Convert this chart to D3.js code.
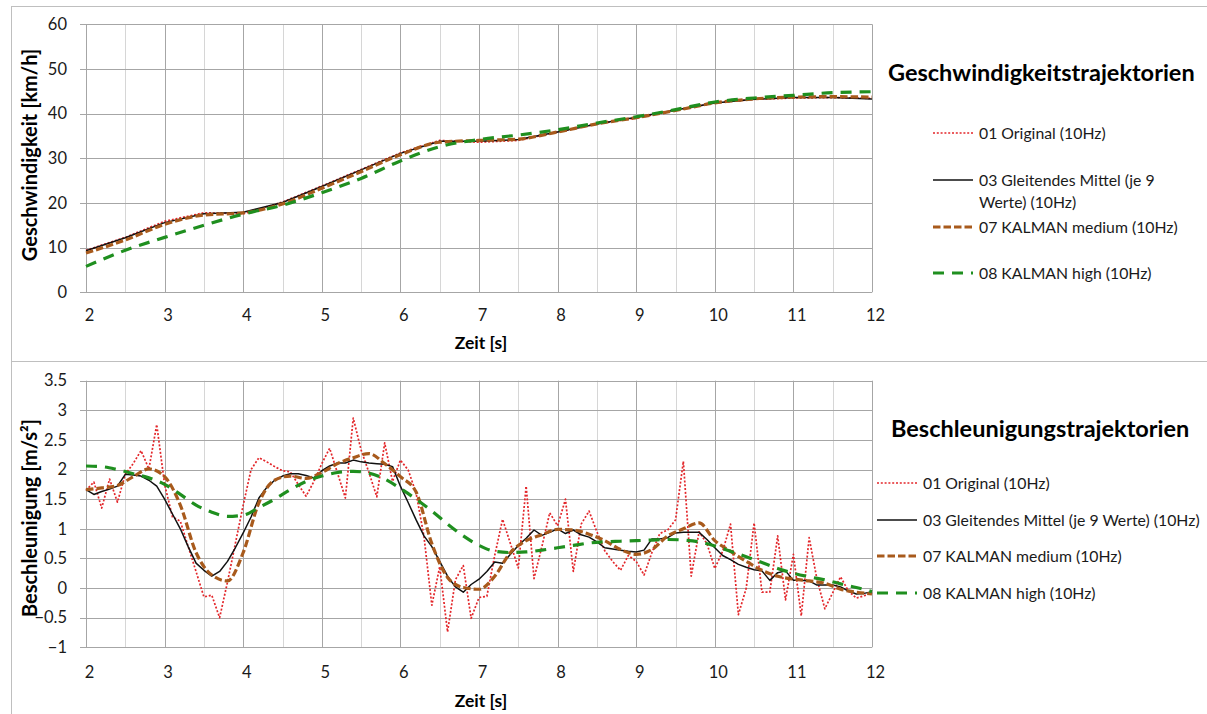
<!DOCTYPE html>
<html>
<head>
<meta charset="utf-8">
<script src="https://cdn.jsdelivr.net/npm/d3@7"></script>
<style>
  body { margin: 0; background: #fff; }
  svg { display: block; font-family: Lato, "Open Sans", sans-serif; }
</style>
</head>
<body>
<svg id="chart" width="1207" height="714"></svg>
<script>
// ---------- Zeitachsen ----------
const velTime = [2, 2.5, 3, 3.5, 4, 4.5, 5, 5.5, 6, 6.5, 7, 7.5, 8, 8.5, 9, 9.5, 10, 10.5, 11, 11.5, 12];

const accTimeFine = [
  2.0, 2.1, 2.2, 2.3, 2.4, 2.5, 2.6, 2.7, 2.8, 2.9,
  3.0, 3.1, 3.2, 3.3, 3.4, 3.5, 3.6, 3.7, 3.8, 3.9,
  4.0, 4.1, 4.2, 4.3, 4.4, 4.5, 4.6, 4.7, 4.8, 4.9,
  5.0, 5.1, 5.2, 5.3, 5.4, 5.5, 5.6, 5.7, 5.8, 5.9,
  6.0, 6.1, 6.2, 6.3, 6.4, 6.5, 6.6, 6.7, 6.8, 6.9,
  7.0, 7.1, 7.2, 7.3, 7.4, 7.5, 7.6, 7.7, 7.8, 7.9,
  8.0, 8.1, 8.2, 8.3, 8.4, 8.5, 8.6, 8.7, 8.8, 8.9,
  9.0, 9.1, 9.2, 9.3, 9.4, 9.5, 9.6, 9.7, 9.8, 9.9,
  10.0, 10.1, 10.2, 10.3, 10.4, 10.5, 10.6, 10.7, 10.8, 10.9,
  11.0, 11.1, 11.2, 11.3, 11.4, 11.5, 11.6, 11.7, 11.8, 11.9,
  12.0
];

const accTimeCoarse = [
  2.0, 2.2, 2.4, 2.6, 2.8, 3.0, 3.2, 3.4, 3.6, 3.8,
  4.0, 4.2, 4.4, 4.6, 4.8, 5.0, 5.2, 5.4, 5.6, 5.8,
  6.0, 6.2, 6.4, 6.6, 6.8, 7.0, 7.2, 7.4, 7.6, 7.8,
  8.0, 8.2, 8.4, 8.6, 8.8, 9.0, 9.2, 9.4, 9.6, 9.8,
  10.0, 10.2, 10.4, 10.6, 10.8, 11.0, 11.2, 11.4, 11.6, 11.8,
  12.0
];

// ---------- Geschwindigkeit [km/h] ----------
const velOriginal      = [9.4, 12.3, 15.9, 17.8, 17.6, 20.2, 23.8, 27.5, 31.2, 34.0, 33.6, 34.0, 35.9, 37.7, 39.0, 40.7, 42.4, 43.2, 43.5, 43.6, 43.4];
const velMovingAvg     = [9.3, 12.2, 15.6, 17.6, 17.9, 20.1, 23.7, 27.4, 31.1, 33.8, 33.8, 34.2, 35.9, 37.7, 39.2, 40.8, 42.4, 43.2, 43.6, 43.6, 43.3];
const velKalmanMedium  = [8.8, 11.7, 15.2, 17.3, 17.8, 19.8, 23.3, 27.0, 30.8, 33.6, 34.0, 34.3, 35.9, 37.7, 39.1, 40.7, 42.4, 43.3, 43.7, 43.8, 43.7];
const velKalmanHigh    = [5.8, 9.4, 12.3, 15.0, 17.5, 19.5, 22.3, 25.5, 29.4, 32.6, 34.2, 35.2, 36.4, 37.9, 39.3, 40.9, 42.6, 43.5, 44.1, 44.7, 44.9];

// ---------- Beschleunigung [m/s²] ----------
const accOriginal = [
  1.65, 1.79, 1.35, 1.84, 1.45, 1.92, 2.10, 2.32, 2.01, 2.76,
  1.75, 1.20, 1.13, 0.70, 0.28, -0.15, -0.12, -0.50, 0.10, 0.75,
  1.40, 2.00, 2.20, 2.13, 2.05, 1.98, 1.96, 1.75, 1.55, 1.80,
  2.10, 2.36, 1.94, 1.52, 2.87, 2.33, 1.95, 1.54, 2.45, 1.80,
  2.16, 1.99, 1.60, 0.87, -0.29, 0.36, -0.74, 0.14, 0.38, -0.51,
  -0.16, -0.14, 0.55, 1.16, 0.75, 0.34, 1.72, 0.16, 0.70, 1.27,
  1.05, 1.50, 0.28, 1.08, 1.30, 0.95, 0.63, 0.45, 0.30, 0.55,
  0.45, 0.22, 0.60, 0.92, 0.98, 1.15, 2.14, 0.20, 0.95, 0.75,
  0.33, 0.62, 1.08, -0.45, 0.00, 1.10, -0.07, -0.07, 0.88, -0.20,
  0.57, -0.47, 0.85, 0.15, -0.35, -0.08, 0.19, -0.05, -0.17, -0.13,
  -0.08
];

const accMovingAvg = [
  1.66, 1.58, 1.63, 1.67, 1.72, 1.92, 1.91, 1.89, 1.82, 1.72,
  1.50, 1.25, 1.00, 0.70, 0.42, 0.30, 0.20, 0.28, 0.45, 0.68,
  0.93, 1.20, 1.52, 1.70, 1.82, 1.89, 1.93, 1.93, 1.90, 1.86,
  1.98, 2.06, 2.11, 2.11, 2.16, 2.13, 2.11, 2.10, 2.09, 2.05,
  1.72, 1.44, 1.15, 0.88, 0.70, 0.45, 0.20, 0.02, -0.07, 0.06,
  0.15, 0.28, 0.44, 0.42, 0.57, 0.72, 0.84, 0.98, 0.89, 0.94,
  1.00, 0.92, 0.98, 0.90, 0.86, 0.78, 0.68, 0.66, 0.64, 0.62,
  0.61, 0.64, 0.83, 0.83, 0.85, 0.93, 0.94, 0.94, 0.94, 0.82,
  0.68, 0.55, 0.48, 0.40, 0.35, 0.31, 0.29, 0.13, 0.26, 0.29,
  0.13, 0.13, 0.12, 0.05, 0.05, 0.05, 0.02, -0.05, -0.10, -0.09,
  -0.06
];

const accKalmanMedium = [
  1.66, 1.69, 1.73, 1.88, 2.01, 1.88, 1.40, 0.60, 0.22, 0.12,
  0.60, 1.44, 1.82, 1.89, 1.85, 1.95, 2.10, 2.20, 2.27, 2.10,
  1.88, 1.62, 0.75, 0.18, 0.01, -0.02, 0.20, 0.60, 0.80, 0.90,
  0.99, 0.98, 0.91, 0.80, 0.65, 0.57, 0.65, 0.88, 1.00, 1.10,
  0.80, 0.62, 0.45, 0.30, 0.20, 0.15, 0.12, 0.08, -0.02, -0.07,
  -0.10
];

const accKalmanHigh = [
  2.06, 2.05, 2.00, 1.93, 1.86, 1.75, 1.58, 1.40, 1.28, 1.21,
  1.23, 1.36, 1.50, 1.66, 1.80, 1.89, 1.95, 1.97, 1.94, 1.84,
  1.68, 1.50, 1.30, 1.08, 0.88, 0.72, 0.62, 0.60, 0.61, 0.64,
  0.68, 0.72, 0.76, 0.78, 0.79, 0.80, 0.81, 0.82, 0.81, 0.78,
  0.71, 0.62, 0.53, 0.43, 0.33, 0.25, 0.19, 0.14, 0.07, 0.01,
  -0.06
];

// ---------- Achsen-Beschriftungen ----------
const xTicks = [2, 3, 4, 5, 6, 7, 8, 9, 10, 11, 12];
const velTicks = [0, 10, 20, 30, 40, 50, 60];
const accTicks = [-1, -0.5, 0, 0.5, 1, 1.5, 2, 2.5, 3, 3.5];

const labelOriginal = "01 Original (10Hz)";
const labelMovingAvg = "03 Gleitendes Mittel (je 9 Werte) (10Hz)";
const labelKalmanMedium = "07 KALMAN medium (10Hz)";
const labelKalmanHigh = "08 KALMAN high (10Hz)";

// ---------- Linienstile ----------
const styles = {
  original: { color: "#e3262a", width: 1.7, dash: "2,1.8", curve: d3.curveLinear },
  moving:   { color: "#111111", width: 1.5, dash: null,    curve: d3.curveLinear },
  medium:   { color: "#a85a1c", width: 3.2, dash: "7.5,3", curve: d3.curveMonotoneX },
  high:     { color: "#1f8f1f", width: 3.2, dash: "11,8",  curve: d3.curveMonotoneX }
};

const svg = d3.select("#chart");
const gridMajor = "#a6a6a6";
const gridMinor = "#d6d6d6";
const textColor = "#1a1a1a";

// Rahmen der beiden Diagrammflächen
svg.append("line").attr("x1", 11).attr("x2", 1207).attr("y1", 6.5).attr("y2", 6.5)
  .attr("stroke", "#bfbfbf");
svg.append("line").attr("x1", 11.5).attr("x2", 11.5).attr("y1", 6).attr("y2", 714)
  .attr("stroke", "#bfbfbf");
svg.append("line").attr("x1", 11).attr("x2", 1207).attr("y1", 361.5).attr("y2", 361.5)
  .attr("stroke", "#bfbfbf");

function drawPanel(cfg) {
  const g = svg.append("g");
  const x = d3.scaleLinear().domain([2, 12]).range([86, 872]);
  const y = d3.scaleLinear().domain(cfg.yDomain).range([cfg.yBottom, cfg.yTop]);

  // vertikale Gitterlinien alle 0,5 s
  const halfSteps = d3.range(4, 25).map(k => k / 2);
  g.selectAll(".vgrid").data(halfSteps).join("line")
    .attr("x1", d => Math.round(x(d)) + 0.5).attr("x2", d => Math.round(x(d)) + 0.5)
    .attr("y1", cfg.yTop).attr("y2", cfg.yBottom)
    .attr("stroke", d => Number.isInteger(d) ? gridMajor : gridMinor)
    .attr("stroke-width", 1);

  // horizontale Gitterlinien
  g.selectAll(".hgrid").data(cfg.ticks).join("line")
    .attr("x1", 80).attr("x2", 872)
    .attr("y1", d => Math.round(y(d)) + 0.5).attr("y2", d => Math.round(y(d)) + 0.5)
    .attr("stroke", gridMajor).attr("stroke-width", 1);

  // y-Achse
  const yAxis = d3.axisLeft(y).tickValues(cfg.ticks).tickSize(0).tickPadding(0)
    .tickFormat(cfg.fmt);
  const ya = g.append("g").attr("transform", "translate(67,0)").call(yAxis);
  ya.select(".domain").remove();
  ya.selectAll("text").attr("font-family", "Lato, sans-serif").attr("font-size", 16.5)
    .attr("fill", textColor);

  // x-Achse
  const xAxis = d3.axisBottom(x).tickValues(xTicks).tickSize(0).tickPadding(0)
    .tickFormat(d3.format("d"));
  const xa = g.append("g").attr("transform", `translate(3,${cfg.xLabelY})`).call(xAxis);
  xa.select(".domain").remove();
  xa.selectAll("text").attr("font-family", "Lato, sans-serif").attr("font-size", 16.5)
    .attr("fill", textColor);

  // Achsentitel
  g.append("text").attr("x", 481).attr("y", cfg.xTitleY).attr("text-anchor", "middle")
    .attr("font-weight", "bold").attr("font-size", 17.5).attr("fill", "#000")
    .text("Zeit [s]");
  g.append("text")
    .attr("transform", `translate(37,${cfg.yTitleCenter}) rotate(-90)`)
    .attr("text-anchor", "middle").attr("font-weight", "bold").attr("font-size", 20)
    .attr("fill", "#000").text(cfg.yTitle);

  // Datenreihen
  cfg.series.forEach(s => {
    const st = styles[s.style];
    const pts = s.time.map((t, i) => [t, s.values[i]]);
    const line = d3.line().x(d => x(d[0])).y(d => y(d[1])).curve(st.curve);
    g.append("path").attr("d", line(pts)).attr("fill", "none")
      .attr("stroke", st.color).attr("stroke-width", st.width)
      .attr("stroke-dasharray", st.dash).attr("stroke-linejoin", "round");
  });

  // Titel und Legende
  g.append("text").attr("x", cfg.titleX).attr("y", cfg.titleY).attr("dy", "0.35em")
    .attr("font-weight", "bold").attr("font-size", 23.5).attr("fill", "#000")
    .text(cfg.title);

  cfg.legend.forEach(item => {
    const st = styles[item.style];
    g.append("line").attr("x1", cfg.legX1).attr("x2", cfg.legX2)
      .attr("y1", item.y).attr("y2", item.y)
      .attr("stroke", st.color).attr("stroke-width", st.width)
      .attr("stroke-dasharray", st.dash);
    const t = g.append("text").attr("x", cfg.legTextX).attr("y", item.y)
      .attr("font-size", 15.8).attr("fill", textColor);
    item.lines.forEach((ln, k) => {
      t.append("tspan").attr("x", cfg.legTextX).attr("dy", k === 0 ? "0.35em" : "1.4em").text(ln);
    });
  });
}

drawPanel({
  yDomain: [0, 60], yTop: 24.3, yBottom: 292.3, ticks: velTicks, fmt: d3.format("d"),
  xLabelY: 309, xTitleY: 349, yTitle: "Geschwindigkeit [km/h]", yTitleCenter: 155,
  title: "Geschwindigkeitstrajektorien", titleX: 888, titleY: 73,
  legX1: 933, legX2: 973, legTextX: 979,
  legend: [
    { style: "original", y: 133, lines: [labelOriginal] },
    { style: "moving", y: 180, lines: ["03 Gleitendes Mittel (je 9", "Werte) (10Hz)"] },
    { style: "medium", y: 227, lines: [labelKalmanMedium] },
    { style: "high", y: 273, lines: [labelKalmanHigh] }
  ],
  series: [
    { style: "original", time: velTime, values: velOriginal },
    { style: "moving", time: velTime, values: velMovingAvg },
    { style: "medium", time: velTime, values: velKalmanMedium },
    { style: "high", time: velTime, values: velKalmanHigh }
  ]
});

drawPanel({
  yDomain: [-1, 3.5], yTop: 380.7, yBottom: 647.3, ticks: accTicks, fmt: d3.format(""),
  xLabelY: 666, xTitleY: 707, yTitle: "Beschleunigung [m/s²]", yTitleCenter: 518,
  title: "Beschleunigungstrajektorien", titleX: 891, titleY: 429,
  legX1: 877, legX2: 917, legTextX: 923,
  legend: [
    { style: "original", y: 483, lines: [labelOriginal] },
    { style: "moving", y: 520, lines: [labelMovingAvg] },
    { style: "medium", y: 556, lines: [labelKalmanMedium] },
    { style: "high", y: 593, lines: [labelKalmanHigh] }
  ],
  series: [
    { style: "original", time: accTimeFine, values: accOriginal },
    { style: "moving", time: accTimeFine, values: accMovingAvg },
    { style: "medium", time: accTimeCoarse, values: accKalmanMedium },
    { style: "high", time: accTimeCoarse, values: accKalmanHigh }
  ]
});
</script>
</body>
</html>
